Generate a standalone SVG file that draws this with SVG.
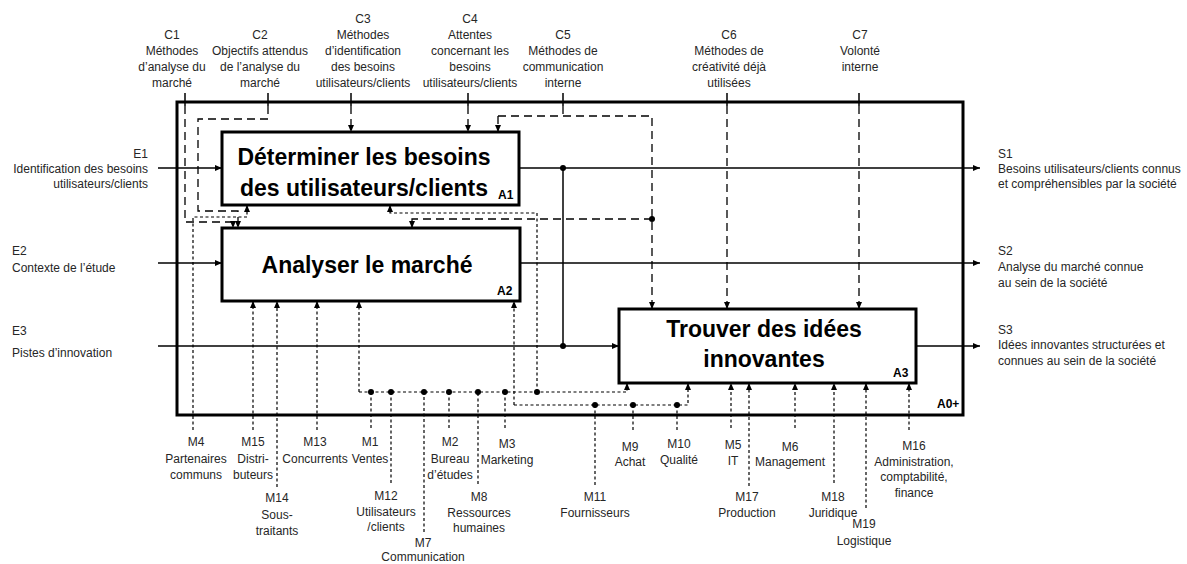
<svg xmlns="http://www.w3.org/2000/svg" width="1187" height="564" viewBox="0 0 1187 564">
<style>
text{font-family:"Liberation Sans",Arial,sans-serif;font-size:12px;fill:#262626}
.t{font-weight:bold;font-size:23px;fill:#000;text-anchor:middle}
.id{font-weight:bold;font-size:12px;fill:#000}
.c{text-anchor:middle}
.e{text-anchor:end}
.box{fill:#fff;stroke:#000;stroke-width:3}
.sol{fill:none;stroke:#000;stroke-width:1.5}
.ld{fill:none;stroke:#000;stroke-width:1.3;stroke-dasharray:8 5}
.sd{fill:none;stroke:#000;stroke-width:1.2;stroke-dasharray:3 2.5}
.dot{fill:#000}
</style>
<defs>
<marker id="ar" markerUnits="userSpaceOnUse" markerWidth="8" markerHeight="7" refX="7" refY="3" orient="auto">
<path d="M0,0 L7,3 L0,6 z" fill="#000"/>
</marker>
</defs>
<rect width="1187" height="564" fill="#fff"/>
<g id="A0">
<rect class="box" x="177" y="102" width="786" height="313" fill="none"/>
<text class="id" x="937" y="408">A0+</text>
</g>
<g id="connectors">
<path class="sol" d="M158,168 H222" marker-end="url(#ar)"/>
<path class="sol" d="M158,263 H222" marker-end="url(#ar)"/>
<path class="sol" d="M158,346 H619" marker-end="url(#ar)"/>
<path class="sol" d="M519,168 H980" marker-end="url(#ar)"/>
<path class="sol" d="M520,263 H980" marker-end="url(#ar)"/>
<path class="sol" d="M916,346 H980" marker-end="url(#ar)"/>
<path class="sol" d="M563,168 V346"/>
<circle class="dot" cx="563" cy="168" r="3"/>
<circle class="dot" cx="563" cy="346" r="3"/>
<path class="sol" d="M185,93 V106 M268,93 V106 M351,93 V106 M468,93 V106 M563,93 V106 M727,93 V106 M859,93 V106"/>
<path class="ld" d="M185,106 V222 H233 V228" marker-end="url(#ar)"/>
<path class="ld" d="M268,106 V119 H198 V211 H238 V228" marker-end="url(#ar)"/>
<path class="ld" d="M351,106 V132" marker-end="url(#ar)"/>
<path class="ld" d="M468,106 V132" marker-end="url(#ar)"/>
<path class="ld" d="M563,106 V116"/>
<path class="ld" d="M498,116 V132" marker-end="url(#ar)"/>
<path class="ld" d="M498,116 H652 V309" marker-end="url(#ar)"/>
<path class="ld" d="M652,219 H412 V228" marker-end="url(#ar)"/>
<circle class="dot" cx="652" cy="219" r="3"/>
<path class="ld" d="M727,106 V309" marker-end="url(#ar)"/>
<path class="ld" d="M859,106 V309" marker-end="url(#ar)"/>
<path class="sd" d="M193,430 V217 H247 V205" marker-end="url(#ar)"/>
<path class="sd" d="M253,430 V301" marker-end="url(#ar)"/>
<path class="sd" d="M277,487 V301" marker-end="url(#ar)"/>
<path class="sd" d="M317,430 V301" marker-end="url(#ar)"/>
<path class="sd" d="M359,392 V301" marker-end="url(#ar)"/>
<path class="sd" d="M359,392 H627 V383" marker-end="url(#ar)"/>
<path class="sd" d="M537,392 V213 H390 V205" marker-end="url(#ar)"/>
<path class="sd" d="M371,428 V392 M391,483 V392 M424,532 V392 M449,428 V392 M478,484 V392 M505,428 V392"/>
<circle class="dot" cx="371" cy="392" r="3"/>
<circle class="dot" cx="391" cy="392" r="3"/>
<circle class="dot" cx="424" cy="392" r="3"/>
<circle class="dot" cx="449" cy="392" r="3"/>
<circle class="dot" cx="478" cy="392" r="3"/>
<circle class="dot" cx="505" cy="392" r="3"/>
<circle class="dot" cx="537" cy="392" r="3"/>
<path class="sd" d="M514,405 V301" marker-end="url(#ar)"/>
<path class="sd" d="M514,405 H688 V383" marker-end="url(#ar)"/>
<path class="sd" d="M595,485 V405 M633,430 V405 M677,430 V405"/>
<circle class="dot" cx="595" cy="405" r="3"/>
<circle class="dot" cx="633" cy="405" r="3"/>
<circle class="dot" cx="677" cy="405" r="3"/>
<path class="sd" d="M731,428 V383" marker-end="url(#ar)"/>
<path class="sd" d="M749,486 V383" marker-end="url(#ar)"/>
<path class="sd" d="M795,428 V383" marker-end="url(#ar)"/>
<path class="sd" d="M834,483 V383" marker-end="url(#ar)"/>
<path class="sd" d="M866,508 V383" marker-end="url(#ar)"/>
<path class="sd" d="M909,430 V383" marker-end="url(#ar)"/>
</g>
<g id="A1">
<rect class="box" x="222" y="132" width="297" height="73"/>
<text class="t" x="364" y="165">Déterminer les besoins</text>
<text class="t" x="364" y="196">des utilisateurs/clients</text>
<text class="id" x="498" y="199">A1</text>
</g>
<g id="A2">
<rect class="box" x="222" y="228" width="298" height="73"/>
<text class="t" x="367" y="273">Analyser le marché</text>
<text class="id" x="497" y="295">A2</text>
</g>
<g id="A3">
<rect class="box" x="619" y="309" width="297" height="74"/>
<text class="t" x="764" y="337">Trouver des idées</text>
<text class="t" x="764" y="367">innovantes</text>
<text class="id" x="893" y="377">A3</text>
</g>
<g id="controls">
<text class="c" x="172"><tspan x="172" y="39">C1</tspan><tspan x="172" y="55">Méthodes</tspan><tspan x="172" y="71">d’analyse du</tspan><tspan x="172" y="87">marché</tspan></text>
<text class="c" x="260"><tspan x="260" y="39">C2</tspan><tspan x="260" y="55">Objectifs attendus</tspan><tspan x="260" y="71">de l’analyse du</tspan><tspan x="260" y="87">marché</tspan></text>
<text class="c" x="363"><tspan x="363" y="23">C3</tspan><tspan x="363" y="39">Méthodes</tspan><tspan x="363" y="55">d’identification</tspan><tspan x="363" y="71">des besoins</tspan><tspan x="363" y="87">utilisateurs/clients</tspan></text>
<text class="c" x="470"><tspan x="470" y="23">C4</tspan><tspan x="470" y="39">Attentes</tspan><tspan x="470" y="55">concernant les</tspan><tspan x="470" y="71">besoins</tspan><tspan x="470" y="87">utilisateurs/clients</tspan></text>
<text class="c" x="563"><tspan x="563" y="39">C5</tspan><tspan x="563" y="55">Méthodes de</tspan><tspan x="563" y="71">communication</tspan><tspan x="563" y="87">interne</tspan></text>
<text class="c" x="729"><tspan x="729" y="39">C6</tspan><tspan x="729" y="55">Méthodes de</tspan><tspan x="729" y="71">créativité déjà</tspan><tspan x="729" y="87">utilisées</tspan></text>
<text class="c" x="860"><tspan x="860" y="39">C7</tspan><tspan x="860" y="55">Volonté</tspan><tspan x="860" y="71">interne</tspan></text>
</g>
<g id="inputs">
<text class="e" x="148"><tspan x="148" y="158">E1</tspan><tspan x="148" y="173">Identification des besoins</tspan><tspan x="148" y="188">utilisateurs/clients</tspan></text>
<text x="12"><tspan x="12" y="255">E2</tspan><tspan x="12" y="272">Contexte de l’étude</tspan></text>
<text x="12"><tspan x="12" y="335">E3</tspan><tspan x="12" y="357">Pistes d’innovation</tspan></text>
</g>
<g id="outputs">
<text x="998"><tspan x="998" y="158">S1</tspan><tspan x="998" y="173">Besoins utilisateurs/clients connus</tspan><tspan x="998" y="188">et compréhensibles par la société</tspan></text>
<text x="998"><tspan x="998" y="255">S2</tspan><tspan x="998" y="271">Analyse du marché connue</tspan><tspan x="998" y="287">au sein de la société</tspan></text>
<text x="998"><tspan x="998" y="334">S3</tspan><tspan x="998" y="349">Idées innovantes structurées et</tspan><tspan x="998" y="365">connues au sein de la société</tspan></text>
</g>
<g id="mechanisms">
<text class="c"><tspan x="196" y="446">M4</tspan><tspan x="196" y="463">Partenaires</tspan><tspan x="196" y="479">communs</tspan></text>
<text class="c"><tspan x="253" y="446">M15</tspan><tspan x="253" y="463">Distri-</tspan><tspan x="253" y="479">buteurs</tspan></text>
<text class="c"><tspan x="277" y="502">M14</tspan><tspan x="277" y="519">Sous-</tspan><tspan x="277" y="535">traitants</tspan></text>
<text class="c"><tspan x="315" y="446">M13</tspan><tspan x="315" y="463">Concurrents</tspan></text>
<text class="c"><tspan x="370" y="446">M1</tspan><tspan x="370" y="463">Ventes</tspan></text>
<text class="c"><tspan x="386" y="500">M12</tspan><tspan x="386" y="516">Utilisateurs</tspan><tspan x="386" y="531">/clients</tspan></text>
<text class="c"><tspan x="423" y="547">M7</tspan><tspan x="423" y="561">Communication</tspan></text>
<text class="c"><tspan x="450" y="446">M2</tspan><tspan x="450" y="463">Bureau</tspan><tspan x="450" y="479">d’études</tspan></text>
<text class="c"><tspan x="479" y="501">M8</tspan><tspan x="479" y="517">Ressources</tspan><tspan x="479" y="532">humaines</tspan></text>
<text class="c"><tspan x="507" y="448">M3</tspan><tspan x="507" y="464">Marketing</tspan></text>
<text class="c"><tspan x="595" y="501">M11</tspan><tspan x="595" y="517">Fournisseurs</tspan></text>
<text class="c"><tspan x="630" y="451">M9</tspan><tspan x="630" y="466">Achat</tspan></text>
<text class="c"><tspan x="679" y="448">M10</tspan><tspan x="679" y="464">Qualité</tspan></text>
<text class="c"><tspan x="733" y="449">M5</tspan><tspan x="733" y="465">IT</tspan></text>
<text class="c"><tspan x="747" y="501">M17</tspan><tspan x="747" y="517">Production</tspan></text>
<text class="c"><tspan x="790" y="451">M6</tspan><tspan x="790" y="466">Management</tspan></text>
<text class="c"><tspan x="833" y="501">M18</tspan><tspan x="833" y="517">Juridique</tspan></text>
<text class="c"><tspan x="864" y="528">M19</tspan><tspan x="864" y="545">Logistique</tspan></text>
<text class="c"><tspan x="914" y="450">M16</tspan><tspan x="914" y="466">Administration,</tspan><tspan x="914" y="481">comptabilité,</tspan><tspan x="914" y="497">finance</tspan></text>
</g>
</svg>
